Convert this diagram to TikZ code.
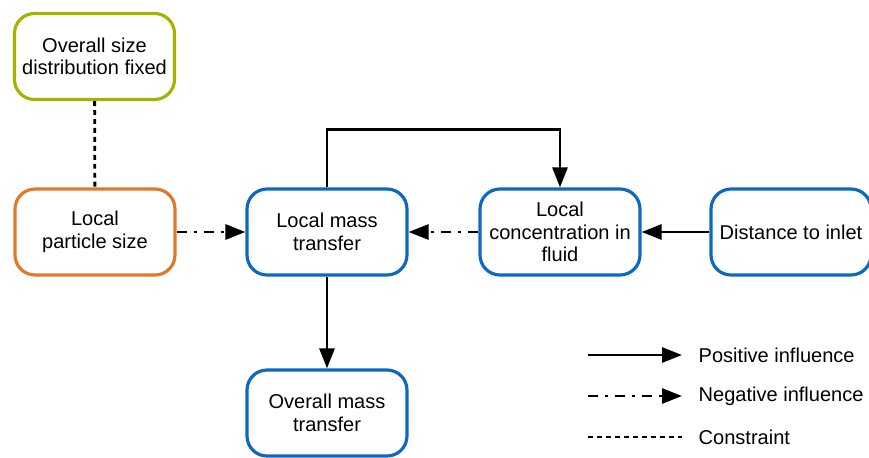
\documentclass[tikz,border=0pt]{standalone}
\usepackage{fontspec}
\setmainfont{Liberation Sans}
\usetikzlibrary{arrows.meta}
\definecolor{limegreen}{RGB}{166,178,0}
\definecolor{rustorange}{RGB}{229,120,40}
\definecolor{flowblue}{RGB}{12,104,192}
\tikzset{
	box/.style={draw=#1, line width=1.8pt, rounded corners=0.4cm, minimum width=3.2cm, minimum height=1.72cm, align=center, font=\fontsize{11.4}{12.9}\selectfont, fill=white, text=black},
	posarrow/.style={line width=1.6pt, -{Triangle[length=0.4cm,width=0.3cm]}},
	negarrow/.style={posarrow, dash pattern=on 5.7pt off 4pt on 1.7pt off 4pt},
	consline/.style={line width=1.6pt, dash pattern=on 2.8pt off 2.3pt},
	legend/.style={anchor=west, font=\fontsize{11.4}{12.9}\selectfont}
}
\begin{document}
\begin{tikzpicture}
	\useasboundingbox (0,0) rectangle (17.38,9.14);
	\node[box=limegreen] (size) at (1.89,8.01) {Overall size\\distribution fixed};
	\node[box=rustorange] (particle) at (1.90,4.5) {Local\\particle size};
	\node[box=flowblue] (mass) at (6.54,4.5) {Local mass\\transfer};
	\node[box=flowblue] (conc) at (11.20,4.5) {Local\\concentration in\\fluid};
	\node[box=flowblue] (dist) at (15.82,4.5) {Distance to inlet};
	\node[box=flowblue] (overall) at (6.54,0.88) {Overall mass\\transfer};

	\draw[consline] (size) -- (particle);
	\draw[negarrow] (particle) -- (mass);
	\draw[negarrow] (conc) -- (mass);
	\draw[posarrow] (dist) -- (conc);
	\draw[posarrow] (mass.north) -- ++(0,1.16) -| (conc.north);
	\draw[posarrow] (mass) -- (overall);

	\coordinate (p1) at (11.76,2.04);
	\coordinate (p2) at (13.64,2.04);
	\coordinate (n1) at (11.76,1.22);
	\coordinate (n2) at (13.64,1.22);
	\coordinate (c1) at (11.76,0.40);
	\coordinate (c2) at (13.64,0.40);
	\draw[posarrow] (p1) -- (p2);
	\draw[negarrow] (n1) -- (n2);
	\draw[consline] (c1) -- (c2);
	\node[legend] (lpos) at (13.85,2.04) {Positive influence};
	\node[legend] (lneg) at (13.85,1.22) {Negative influence};
	\node[legend] (lcons) at (13.85,0.40) {Constraint};
\end{tikzpicture}
\end{document}
